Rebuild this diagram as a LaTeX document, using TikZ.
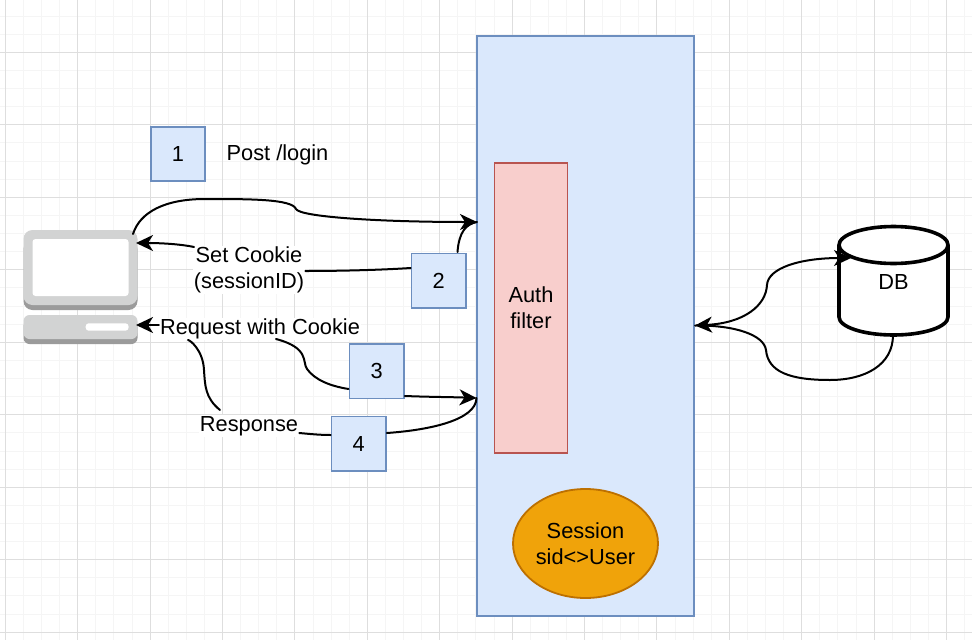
\documentclass[tikz,border=0pt]{standalone}
\usepackage{fontspec}
\setmainfont{Liberation Sans}
\usetikzlibrary{arrows.meta,shapes.geometric}
\definecolor{bluefill}{HTML}{DAE8FC}
\definecolor{blueline}{HTML}{6C8EBF}
\definecolor{redfill}{HTML}{F8CECC}
\definecolor{redline}{HTML}{B85450}
\definecolor{sessionfill}{HTML}{F0A30A}
\definecolor{sessionline}{HTML}{BD7000}
\definecolor{pclight}{HTML}{D2D3D3}
\definecolor{pcdark}{HTML}{9B9B9B}
\tikzset{
  every node/.style={font=\fontsize{21.8}{26}\selectfont,inner sep=0pt},
  bluebox/.style={draw=blueline,fill=bluefill,line width=1.8pt},
  numbox/.style={bluebox,minimum width=54.5pt,minimum height=54.5pt},
  textbox/.style={fill=white,align=center,inner sep=1pt},
  conn/.style={line width=2pt,line cap=round},
  arrowend/.style={-{Stealth[length=17pt,width=16pt,inset=5pt]}},
  arrowends/.style={{Stealth[length=17pt,width=16pt,inset=5pt]}-{Stealth[length=17pt,width=16pt,inset=5pt]}}
}
\begin{document}
\begin{tikzpicture}[x=1pt,y=-1pt]
\useasboundingbox (0,0) rectangle (972,640);
% grid
\foreach \i in {0,...,53} \draw[black!4,line width=1pt] (5.3+18.1*\i,0)--(5.3+18.1*\i,640);
\foreach \i in {0,...,36} \draw[black!4,line width=1pt] (0,-2+18.12*\i)--(972,-2+18.12*\i);
\foreach \i in {0,...,13} \draw[black!13,line width=1pt] (5.3+72.4*\i,0)--(5.3+72.4*\i,640);
\foreach \i in {0,...,8} \draw[black!13,line width=1pt] (0,52.3+72.5*\i)--(972,52.3+72.5*\i);

% computer
\fill[pcdark,rounded corners=9pt] (23.5,240)rectangle(137.5,310);
\fill[pclight,rounded corners=9pt] (23.5,230)rectangle(137.5,305);
\fill[white,rounded corners=3pt] (32.5,239)rectangle(128.5,296);
\fill[pcdark,rounded corners=6pt] (23.5,320)rectangle(137.5,344);
\fill[pclight,rounded corners=6pt] (23.5,315)rectangle(137.5,339);
\fill[white,rounded corners=3pt] (85.7,323.3)rectangle(128.5,330.7);
\coordinate (pctop) at (133,234);
\coordinate (pcscreen) at (136,243);
\coordinate (pckeys) at (136,325);

% server side
\node[bluebox,minimum width=217pt,minimum height=580pt] (app) at (585.2,326) {};
\node[draw=redline,fill=redfill,line width=1.8pt,minimum width=73pt,minimum height=290pt,align=center] (auth) at (531,308) {Auth\\filter};
\node[ellipse,draw=sessionline,fill=sessionfill,line width=1.8pt,minimum width=145pt,minimum height=109pt,align=center] (session) at (585.5,543.5) {Session\\sid<>User};
\coordinate (appin) at (477,222);
\coordinate (appout) at (476.5,398);
\coordinate (appdb) at (695,325.5);

% database
\fill[white] (839,245)--(839,317) arc[start angle=180,end angle=360,x radius=54.5,y radius=-18]--(948,245) arc[start angle=0,end angle=180,x radius=54.5,y radius=-19]--cycle;
\draw[line width=3.6pt] (839,245)--(839,317) arc[start angle=180,end angle=360,x radius=54.5,y radius=-18]--(948,245);
\draw[line width=3.6pt] (893.5,245) ellipse[x radius=54.5,y radius=18.5];
\node[minimum width=109pt,minimum height=109pt] (db) at (893.5,281.5) {DB};
\coordinate (dbleft) at (851,258);
\coordinate (dbbottom) at (893,335);

% boxes and labels
\node[numbox] (box1) at (178,154) {1};
\node at (277.5,155) (login) {Post /login};
\node[numbox] (box2) at (438.7,280.7) {2};
\node[numbox] (box3) at (376.7,371.3) {3};
\node[numbox] (box4) at (358.7,443.8) {4};
\node[textbox] (cookie) at (249,270) {Set Cookie\\(sessionID)};
\node[textbox] (request) at (260,329) {Request with Cookie};
\node[textbox] (response) at (249,426) {Response};

% connectors
\draw[conn,arrowend] (pctop) .. controls (140,212) and (165,199) .. (205,199) .. controls (250,199) and (292,199) .. (296,209) .. controls (300,217) and (380,222) .. (appin);
\draw[conn] (appin) .. controls (466,224) and (459,232) .. (457.5,252);
\draw[conn] (box2.west|-0,268) .. controls (380,270) and (340,271) .. (cookie.east|-0,271);
\draw[conn,arrowend] (194,247) .. controls (180,244) and (160,243) .. (pcscreen);
\draw[conn,arrowend] (request.west|-0,325) -- (pckeys);
\draw[conn] (276,339) .. controls (310,348) and (302,362) .. (307,369) .. controls (315,380) and (330,386) .. (box3.west|-0,389);
\draw[conn,arrowend] (box3.east|-0,396) .. controls (430,397) and (450,397) .. (appout);
\draw[conn] (appout) .. controls (476,420) and (430,430) .. (box4.east|-0,433);
\draw[conn] (box4.west|-0,435) .. controls (320,435) and (310,434) .. (response.east|-0,433);
\draw[conn] (220,410) .. controls (205,398) and (205,385) .. (204,370) .. controls (203,350) and (190,340) .. (188,340);
\draw[conn,arrowends] (appdb) .. controls (745,323) and (766,305) .. (767,285) .. controls (768,268) and (800,258) .. (dbleft);
\draw[conn] (dbbottom) .. controls (893,365) and (865,380) .. (830,380) .. controls (790,380) and (768,372) .. (766,350) .. controls (764,335) and (735,325) .. (appdb);
\end{tikzpicture}
\end{document}
